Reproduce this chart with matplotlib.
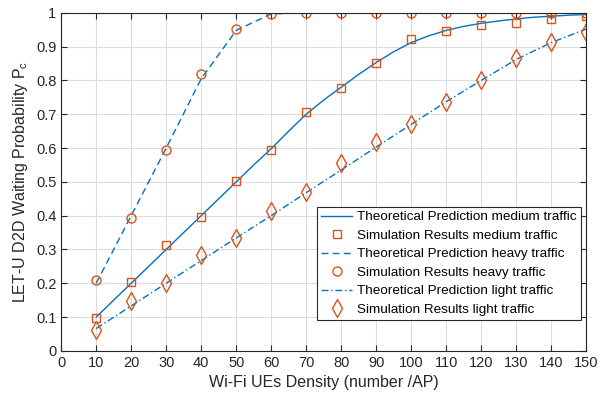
import matplotlib
matplotlib.use("Agg")
import matplotlib.pyplot as plt

plt.rcParams['font.family'] = ['Liberation Sans', 'DejaVu Sans']
plt.rcParams['mathtext.fontset'] = 'custom'
plt.rcParams['mathtext.rm'] = 'Liberation Sans'

# theoretical medium curve (fine step)
x_fine = [10, 15, 20, 25, 30, 35, 40, 45, 50, 55, 60, 65, 70, 75, 80, 85, 90, 95,
          100, 105, 110, 115, 120, 125, 130, 135, 140, 145, 150]
theo_medium = [0.1, 0.15, 0.2, 0.25, 0.3, 0.35, 0.4, 0.45, 0.5, 0.55, 0.598, 0.65,
               0.70, 0.742, 0.78, 0.818, 0.853, 0.885, 0.912, 0.932, 0.948, 0.96,
               0.969, 0.976, 0.982, 0.987, 0.99, 0.993, 0.995]

# x values of simulation points / coarse theoretical curves
x_sim = [10, 20, 30, 40, 50, 60, 70, 80, 90, 100, 110, 120, 130, 140, 150]
theo_heavy = [0.2, 0.4, 0.6, 0.805, 0.948, 0.997, 1.0, 1.0, 1.0, 1.0, 1.0, 1.0,
              1.0, 1.0, 1.0]
theo_light = [0.066, 0.133, 0.2, 0.267, 0.334, 0.4, 0.468, 0.535, 0.603, 0.67,
              0.737, 0.8, 0.862, 0.912, 0.952]

sim_medium = [0.098, 0.203, 0.314, 0.397, 0.502, 0.594, 0.707, 0.777, 0.851, 0.923,
              0.947, 0.963, 0.971, 0.982, 0.991]
sim_heavy = [0.21, 0.393, 0.593, 0.819, 0.951, 0.996, 1.0, 1.0, 1.0, 1.0, 1.0, 1.0,
             1.0, 1.0, 1.0]
sim_light = [0.061, 0.147, 0.2, 0.285, 0.333, 0.413, 0.469, 0.556, 0.617, 0.672,
             0.737, 0.801, 0.866, 0.915, 0.943]

blue = '#0072BD'
orange = '#D95319'

fig = plt.figure(figsize=(6, 4.01), dpi=100)
ax = fig.add_axes([0.102, 0.125, 0.875, 0.843])

ax.plot(x_fine, theo_medium, '-', color=blue, lw=1.0,
        label='Theoretical Prediction medium traffic')
ax.plot(x_sim, sim_medium, 's', color=orange, mfc='none', ms=6, mew=1.0,
        label='Simulation Results medium traffic')
ax.plot(x_sim, theo_heavy, '--', color=blue, lw=1.0, dashes=(5, 3),
        label='Theoretical Prediction heavy traffic')
ax.plot(x_sim, sim_heavy, 'o', color=orange, mfc='none', ms=6.5, mew=1.0,
        label='Simulation Results heavy traffic')
ax.plot(x_sim, theo_light, '-.', color=blue, lw=1.0, dashes=(5, 2, 1, 2),
        label='Theoretical Prediction light traffic')
ax.plot(x_sim, sim_light, 'd', color=orange, mfc='none', ms=9, mew=1.0,
        label='Simulation Results light traffic')

ax.set_xlim(0, 150)
ax.set_ylim(0, 1)
ax.set_xticks(range(0, 151, 10))
ax.set_yticks([i / 10 for i in range(11)])
ax.set_yticklabels(['0', '0.1', '0.2', '0.3', '0.4', '0.5', '0.6', '0.7', '0.8', '0.9', '1'])
ax.grid(True, color='#DCDCDC', lw=0.8)
ax.set_axisbelow(True)
ax.tick_params(direction='in', top=True, right=True, labelsize=10.5,
               colors='#262626', length=4)
for s in ax.spines.values():
    s.set_color('#262626')
    s.set_linewidth(0.8)

ax.set_xlabel('Wi-Fi UEs Density (number /AP)', fontsize=11.5, color='#262626')
ax.set_ylabel(r'LET-U D2D Waiting Probability P$_{\rm c}$', fontsize=11.5, color='#262626')

leg = ax.legend(loc='upper left', bbox_to_anchor=(0.488, 0.426), fontsize=9.7,
                frameon=True, fancybox=False, edgecolor='#262626', framealpha=1,
                borderaxespad=0, handlelength=2.3, handletextpad=0.35,
                labelspacing=0.45, borderpad=0.3)
leg.get_frame().set_linewidth(0.8)

fig.savefig('out.png', dpi=100)
